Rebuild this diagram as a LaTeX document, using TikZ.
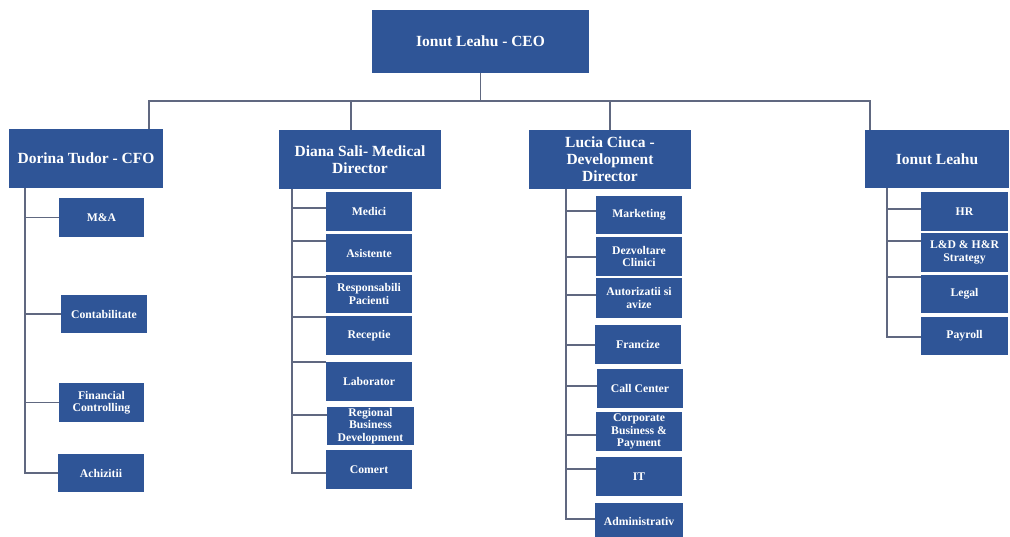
\documentclass[tikz,border=0pt]{standalone}
\usepackage{fontspec}
\setmainfont{Liberation Serif}
\definecolor{boxblue}{RGB}{47,85,151}
\definecolor{linegray}{RGB}{96,104,128}
\begin{document}
\begin{tikzpicture}[x=1pt,y=-1pt,
  base/.style={fill=boxblue,text=white,align=center,inner sep=0pt,font=\bfseries},
  head/.style={base,font=\fontsize{15.5}{17}\selectfont\bfseries},
  sub/.style={base,font=\fontsize{11.7}{12.3}\selectfont\bfseries},
  conn/.style={draw=linegray,line width=1.9pt}]
\useasboundingbox (0,0) rectangle (1010,536);
\clip (0,0) rectangle (1010,536);
% top level
\node[head,minimum width=217pt,minimum height=63pt] (ceo) at (480.5,41.5) {Ionut Leahu - CEO};
\node[head,minimum width=154pt,minimum height=59pt] (cfo) at (86,158.5) {Dorina Tudor - CFO};
\node[head,minimum width=162pt,minimum height=59pt] (med) at (360,159.5) {Diana Sali- Medical\\Director};
\node[head,minimum width=162pt,minimum height=59pt] (dev) at (610,159.5) {Lucia Ciuca -\\Development\\Director};
\node[head,minimum width=144pt,minimum height=58pt] (hrh) at (937,159) {Ionut Leahu};
% bus
\coordinate (b1) at (149,101);
\coordinate (b2) at (351,101);
\coordinate (b3) at (610,101);
\coordinate (b4) at (870,101);
\draw[conn] (cfo.north -| b1) -- (b1) -- (b4) -- (hrh.north -| b4);
\draw[conn] (ceo.south) -- (ceo.south |- b1);
\draw[conn] (b2) -- (med.north -| b2);
\draw[conn] (b3) -- (dev.north);
% CFO column
\node[sub,minimum width=85pt,minimum height=39pt] (ma) at (101.5,217.5) {M\&A};
\node[sub,minimum width=86pt,minimum height=38pt] (cont) at (104,314) {Contabilitate};
\node[sub,minimum width=85pt,minimum height=39pt] (fin) at (101.5,402.5) {Financial\\Controlling};
\node[sub,minimum width=86pt,minimum height=38pt] (ach) at (101,473) {Achizitii};
\coordinate (c0) at (25,473);
\draw[conn] (cfo.south -| c0) -- (c0) -- (ach.west);
\draw[conn] (ma.west -| c0) -- (ma.west);
\draw[conn] (cont.west -| c0) -- (cont.west);
\draw[conn] (fin.west -| c0) -- (fin.west);
% Medical column
\node[sub,minimum width=86pt,minimum height=39pt] (m1) at (369,211.5) {Medici};
\node[sub,minimum width=86pt,minimum height=38pt] (m2) at (369,253) {Asistente};
\node[sub,minimum width=86pt,minimum height=38pt] (m3) at (369,294) {Responsabili\\Pacienti};
\node[sub,minimum width=86pt,minimum height=39pt] (m4) at (369,335.5) {Receptie};
\node[sub,minimum width=86pt,minimum height=39pt] (m5) at (369,381.5) {Laborator};
\node[sub,minimum width=87pt,minimum height=38pt] (m6) at (370.5,426) {Regional\\Business\\Development};
\node[sub,minimum width=86pt,minimum height=39pt] (m7) at (369,469.5) {Comert};
\coordinate (d1) at (292,208);
\coordinate (d2) at (292,241);
\coordinate (d3) at (292,277);
\coordinate (d4) at (292,317);
\coordinate (d5) at (292,362);
\coordinate (d6) at (292,415);
\coordinate (d7) at (292,473);
\draw[conn] (med.south -| d7) -- (d7) -- (d7 -| m7.west);
\draw[conn] (d1) -- (d1 -| m1.west);
\draw[conn] (d2) -- (d2 -| m2.west);
\draw[conn] (d3) -- (d3 -| m3.west);
\draw[conn] (d4) -- (d4 -| m4.west);
\draw[conn] (d5) -- (d5 -| m5.west);
\draw[conn] (d6) -- (d6 -| m6.west);
% Development column
\node[sub,minimum width=86pt,minimum height=38pt] (l1) at (639,215) {Marketing};
\node[sub,minimum width=86pt,minimum height=39pt] (l2) at (639,256.5) {Dezvoltare\\Clinici};
\node[sub,minimum width=86pt,minimum height=40pt] (l3) at (639,298) {Autorizatii si\\avize};
\node[sub,minimum width=86pt,minimum height=39pt] (l4) at (638,344.5) {Francize};
\node[sub,minimum width=86pt,minimum height=39pt] (l5) at (640,388.5) {Call Center};
\node[sub,minimum width=86pt,minimum height=39pt] (l6) at (639,431.5) {Corporate\\Business \&\\Payment};
\node[sub,minimum width=86pt,minimum height=39pt] (l7) at (639,476.5) {IT};
\node[sub,minimum width=88pt,minimum height=37pt] (l8) at (639,521.5) {Administrativ};
\coordinate (e1) at (566,211);
\coordinate (e2) at (566,257);
\coordinate (e3) at (566,295);
\coordinate (e4) at (566,345);
\coordinate (e5) at (566,386);
\coordinate (e6) at (566,435);
\coordinate (e7) at (566,469);
\coordinate (e8) at (566,519);
\draw[conn] (dev.south -| e8) -- (e8) -- (e8 -| l8.west);
\draw[conn] (e1) -- (e1 -| l1.west);
\draw[conn] (e2) -- (e2 -| l2.west);
\draw[conn] (e3) -- (e3 -| l3.west);
\draw[conn] (e4) -- (e4 -| l4.west);
\draw[conn] (e5) -- (e5 -| l5.west);
\draw[conn] (e6) -- (e6 -| l6.west);
\draw[conn] (e7) -- (e7 -| l7.west);
% HR column
\node[sub,minimum width=87pt,minimum height=39pt] (h1) at (964.5,211.5) {HR};
\node[sub,minimum width=87pt,minimum height=39pt] (h2) at (964.5,252.5) {L\&D \& H\&R\\Strategy};
\node[sub,minimum width=87pt,minimum height=38pt] (h3) at (964.5,294) {Legal};
\node[sub,minimum width=87pt,minimum height=38pt] (h4) at (964.5,336) {Payroll};
\coordinate (f1) at (887,209);
\coordinate (f2) at (887,241);
\coordinate (f3) at (887,277);
\coordinate (f4) at (887,337);
\draw[conn] (hrh.south -| f4) -- (f4) -- (f4 -| h4.west);
\draw[conn] (f1) -- (f1 -| h1.west);
\draw[conn] (f2) -- (f2 -| h2.west);
\draw[conn] (f3) -- (f3 -| h3.west);
\end{tikzpicture}
\end{document}
